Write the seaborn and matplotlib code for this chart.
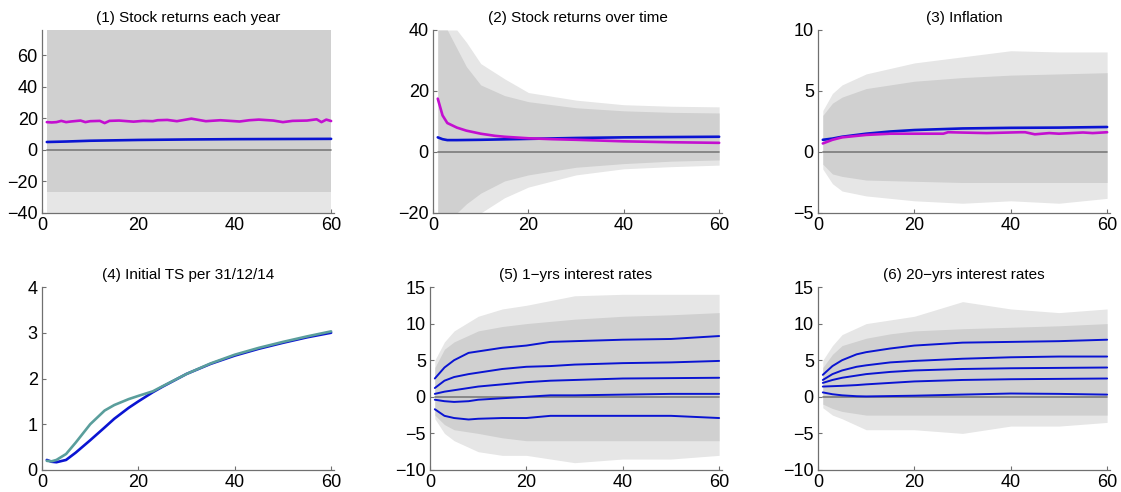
import numpy as np
import pandas as pd
import matplotlib
matplotlib.use("Agg")
import matplotlib.pyplot as plt
import seaborn as sns

# ---------------- data ----------------
# gray simulation clouds are given as envelopes: dense core and outer tendrils
# (1) stock returns each year
p1_x = [1, 60]
p1_core_lo = [-27, -27]
p1_core_hi = [76, 76]
p1_out_lo = [-40, -40]
p1_out_hi = [76, 76]
p1_blue_x = [1, 5, 10, 20, 30, 40, 50, 60]
p1_blue = [5.0, 5.3, 5.8, 6.3, 6.6, 6.8, 6.9, 7.0]
p1_mag_x = [1, 2, 3, 4, 5, 6, 8, 9, 10, 12, 13, 14, 16, 19, 21, 23, 24, 26, 28, 31, 34,
            37, 41, 43, 45, 48, 50, 52, 55, 57, 58, 59, 60]
p1_mag = [17.6, 17.4, 17.6, 18.4, 17.6, 18.0, 18.6, 17.6, 18.2, 18.4, 17.0, 18.4, 18.6,
          17.9, 18.4, 18.2, 18.8, 19.0, 18.2, 19.8, 18.2, 18.8, 18.0, 18.8, 19.2, 18.6,
          17.6, 18.4, 18.6, 19.4, 17.6, 19.2, 18.3]

# (2) stock returns over time
p2_x = [1, 3, 5, 7, 10, 15, 20, 30, 40, 50, 60]
p2_core_hi = [40, 40, 34, 28, 22, 18.5, 16.5, 14.5, 13.5, 13, 12.8]
p2_core_lo = [-20, -20, -20, -17, -13.5, -9.5, -7.5, -5, -3.8, -3, -2.6]
p2_out_hi = [40, 40, 40, 36, 29, 24, 19.5, 17, 15.5, 15, 14.8]
p2_out_lo = [-20, -20, -20, -20, -20, -15, -11.5, -7.5, -5.5, -4.8, -4.3]
p2_blue_x = [1, 2, 3, 5, 10, 20, 30, 40, 50, 60]
p2_blue = [4.8, 4.2, 3.9, 3.9, 4.0, 4.3, 4.6, 4.8, 4.9, 5.0]
p2_mag_x = [1, 2, 3, 5, 7, 10, 13, 15, 20, 25, 30, 40, 50, 60]
p2_mag = [17.5, 12.0, 9.5, 8.0, 7.0, 6.0, 5.3, 5.0, 4.5, 4.2, 4.0, 3.5, 3.2, 3.0]

# (3) inflation
p3_x = [1, 3, 5, 10, 20, 30, 40, 50, 60]
p3_core_hi = [3.0, 4.0, 4.5, 5.2, 5.8, 6.1, 6.3, 6.4, 6.5]
p3_core_lo = [-1.0, -1.8, -2.0, -2.3, -2.4, -2.5, -2.5, -2.5, -2.5]
p3_out_hi = [3.4, 4.8, 5.5, 6.4, 7.3, 7.8, 8.3, 8.2, 8.2]
p3_out_lo = [-1.4, -2.6, -3.2, -3.6, -4.0, -4.2, -4.0, -4.2, -3.8]
p3_blue_x = [1, 3, 5, 10, 15, 20, 30, 40, 50, 60]
p3_blue = [1.0, 1.1, 1.25, 1.5, 1.68, 1.8, 1.93, 1.98, 2.0, 2.05]
p3_mag_x = [1, 3, 5, 10, 15, 20, 26, 27, 35, 42, 43, 45, 48, 50, 55, 57, 60]
p3_mag = [0.7, 1.0, 1.2, 1.4, 1.5, 1.5, 1.5, 1.62, 1.55, 1.62, 1.62, 1.45, 1.55, 1.5,
          1.6, 1.55, 1.62]

# (4) initial term structure per 31/12/14
p4_x = [1, 2, 3, 5, 7, 10, 13, 15, 18, 20, 23, 25, 30, 35, 40, 45, 50, 55, 60]
p4_blue = [0.22, 0.18, 0.17, 0.22, 0.38, 0.65, 0.93, 1.12, 1.36, 1.5, 1.7, 1.82, 2.1,
           2.32, 2.5, 2.65, 2.78, 2.9, 3.0]
p4_teal = [0.2, 0.19, 0.22, 0.35, 0.6, 1.0, 1.3, 1.42, 1.55, 1.62, 1.72, 1.83, 2.1,
           2.33, 2.52, 2.67, 2.8, 2.92, 3.03]

# (5) 1-yrs interest rates
p5_x = [1, 3, 5, 10, 15, 20, 30, 40, 50, 60]
p5_core_hi = [4.0, 6.5, 7.5, 9.0, 9.6, 10.0, 10.6, 11.0, 11.2, 11.5]
p5_core_lo = [-2.5, -3.8, -4.5, -5.0, -5.6, -6.0, -6.0, -6.0, -6.0, -6.0]
p5_out_hi = [5.0, 7.5, 9.0, 11.0, 12.0, 12.5, 13.8, 14.0, 14.0, 14.0]
p5_out_lo = [-3.0, -5.0, -6.0, -7.5, -8.0, -8.0, -9.0, -8.5, -8.5, -8.0]
p5_qx = [1, 3, 5, 8, 10, 15, 20, 25, 30, 40, 50, 60]
p5_q1 = [2.5, 4.0, 5.0, 6.0, 6.2, 6.7, 7.0, 7.5, 7.6, 7.8, 7.9, 8.3]
p5_q2 = [1.2, 2.2, 2.7, 3.1, 3.3, 3.8, 4.1, 4.2, 4.4, 4.6, 4.7, 4.9]
p5_q3 = [0.4, 0.7, 0.9, 1.2, 1.4, 1.7, 2.0, 2.2, 2.3, 2.5, 2.55, 2.6]
p5_q4 = [-0.4, -0.6, -0.7, -0.6, -0.4, -0.2, 0.0, 0.2, 0.2, 0.3, 0.4, 0.4]
p5_q5 = [-1.7, -2.6, -2.9, -3.1, -3.0, -2.9, -2.9, -2.6, -2.6, -2.6, -2.6, -2.9]

# (6) 20-yrs interest rates
p6_x = [1, 3, 5, 10, 15, 20, 30, 40, 50, 60]
p6_core_hi = [4.0, 5.8, 7.0, 8.0, 8.6, 9.0, 9.3, 9.5, 9.7, 10.0]
p6_core_lo = [-1.0, -1.6, -2.0, -2.5, -2.5, -2.5, -2.5, -2.5, -2.5, -2.5]
p6_out_hi = [5.0, 7.0, 8.5, 10.0, 10.5, 11.0, 13.0, 12.0, 11.5, 12.0]
p6_out_lo = [-1.5, -2.5, -3.0, -4.5, -4.5, -4.5, -5.0, -4.0, -4.0, -3.5]
p6_qx = [1, 3, 5, 8, 10, 15, 20, 30, 40, 50, 60]
p6_q1 = [3.0, 4.2, 5.0, 5.8, 6.1, 6.6, 7.0, 7.4, 7.5, 7.6, 7.8]
p6_q2 = [2.3, 3.1, 3.6, 4.1, 4.3, 4.7, 4.9, 5.2, 5.4, 5.5, 5.5]
p6_q3 = [1.9, 2.3, 2.6, 2.9, 3.1, 3.4, 3.6, 3.8, 3.9, 3.95, 4.0]
p6_q4 = [1.4, 1.45, 1.5, 1.6, 1.7, 1.9, 2.1, 2.3, 2.4, 2.45, 2.5]
p6_q5 = [0.6, 0.35, 0.2, 0.08, 0.05, 0.1, 0.15, 0.3, 0.45, 0.4, 0.3]

titles = ["(1) Stock returns each year", "(2) Stock returns over time", "(3) Inflation",
          "(4) Initial TS per 31/12/14", "(5) 1\u2212yrs interest rates",
          "(6) 20\u2212yrs interest rates"]
ylims = [(-40, 76), (-20, 40), (-5, 10), (0, 4), (-10, 15), (-10, 15)]
yticks = [[-40, -20, 0, 20, 40, 60], [-20, 0, 20, 40], [-5, 0, 5, 10],
          [0, 1, 2, 3, 4], [-10, -5, 0, 5, 10, 15], [-10, -5, 0, 5, 10, 15]]

# ---------------- style ----------------
sns.set_theme(style="ticks")
plt.rcParams['font.family'] = ['Liberation Sans', 'DejaVu Sans']
plt.rcParams['axes.unicode_minus'] = True

CORE = "#d0d0d0"
OUTER = "#e6e6e6"
BLUE = "#0a14d2"
MAG = "#c30fd0"
TEAL = "#5a9e9c"

fig = plt.figure(figsize=(11.21, 4.92), dpi=100)
W, H = 1121, 492
# axes boxes in pixels: left, top, right, bottom
boxes = [(42, 30, 334, 213), (433, 30, 722, 213), (818, 30, 1110, 213),
         (42, 287, 334, 470), (430, 287, 722, 470), (818, 287, 1110, 470)]
axes = []
for (l, t, r, b) in boxes:
    axes.append(fig.add_axes([l / W, 1 - b / H, (r - l) / W, (b - t) / H]))


def cloud(ax, x, core_lo, core_hi, out_lo, out_hi):
    ax.fill_between(x, out_lo, out_hi, color=OUTER, lw=0, zorder=1)
    ax.fill_between(x, core_lo, core_hi, color=CORE, lw=0, zorder=1.5)


def zero(ax):
    sns.lineplot(x=[1, 60], y=[0, 0], ax=ax, color="#7a7a7a", lw=1.2, zorder=2)


def line(ax, x, y, c, lw=1.9):
    sns.lineplot(x=x, y=y, ax=ax, color=c, lw=lw, zorder=3)


ax = axes[0]
cloud(ax, p1_x, p1_core_lo, p1_core_hi, p1_out_lo, p1_out_hi)
zero(ax)
line(ax, p1_blue_x, p1_blue, BLUE)
line(ax, p1_mag_x, p1_mag, MAG)

ax = axes[1]
cloud(ax, p2_x, p2_core_lo, p2_core_hi, p2_out_lo, p2_out_hi)
zero(ax)
line(ax, p2_blue_x, p2_blue, BLUE)
line(ax, p2_mag_x, p2_mag, MAG)

ax = axes[2]
cloud(ax, p3_x, p3_core_lo, p3_core_hi, p3_out_lo, p3_out_hi)
zero(ax)
line(ax, p3_blue_x, p3_blue, BLUE)
line(ax, p3_mag_x, p3_mag, MAG)

ax = axes[3]
line(ax, p4_x, p4_blue, BLUE)
line(ax, p4_x, p4_teal, TEAL)

ax = axes[4]
cloud(ax, p5_x, p5_core_lo, p5_core_hi, p5_out_lo, p5_out_hi)
zero(ax)
for q in [p5_q1, p5_q2, p5_q3, p5_q4, p5_q5]:
    line(ax, p5_qx, q, BLUE, lw=1.4)

ax = axes[5]
cloud(ax, p6_x, p6_core_lo, p6_core_hi, p6_out_lo, p6_out_hi)
zero(ax)
for q in [p6_q1, p6_q2, p6_q3, p6_q4, p6_q5]:
    line(ax, p6_qx, q, BLUE, lw=1.4)

for ax, title, yl, yt in zip(axes, titles, ylims, yticks):
    ax.set_xlim(0, 60.6)
    ax.set_ylim(*yl)
    ax.set_xticks([0, 20, 40, 60])
    ax.set_yticks(yt)
    ax.set_title(title, fontsize=11, pad=6, color="black")
    ax.set_xlabel("")
    ax.set_ylabel("")
    for s in ["top", "right"]:
        ax.spines[s].set_visible(False)
    for s in ["left", "bottom"]:
        ax.spines[s].set_color("#707070")
        ax.spines[s].set_linewidth(0.9)
    ax.tick_params(direction="in", length=3, width=0.8, color="#707070",
                   labelcolor="black", labelsize=13, pad=3)
    ax.set_facecolor("white")

fig.savefig("out.png", dpi=100)
